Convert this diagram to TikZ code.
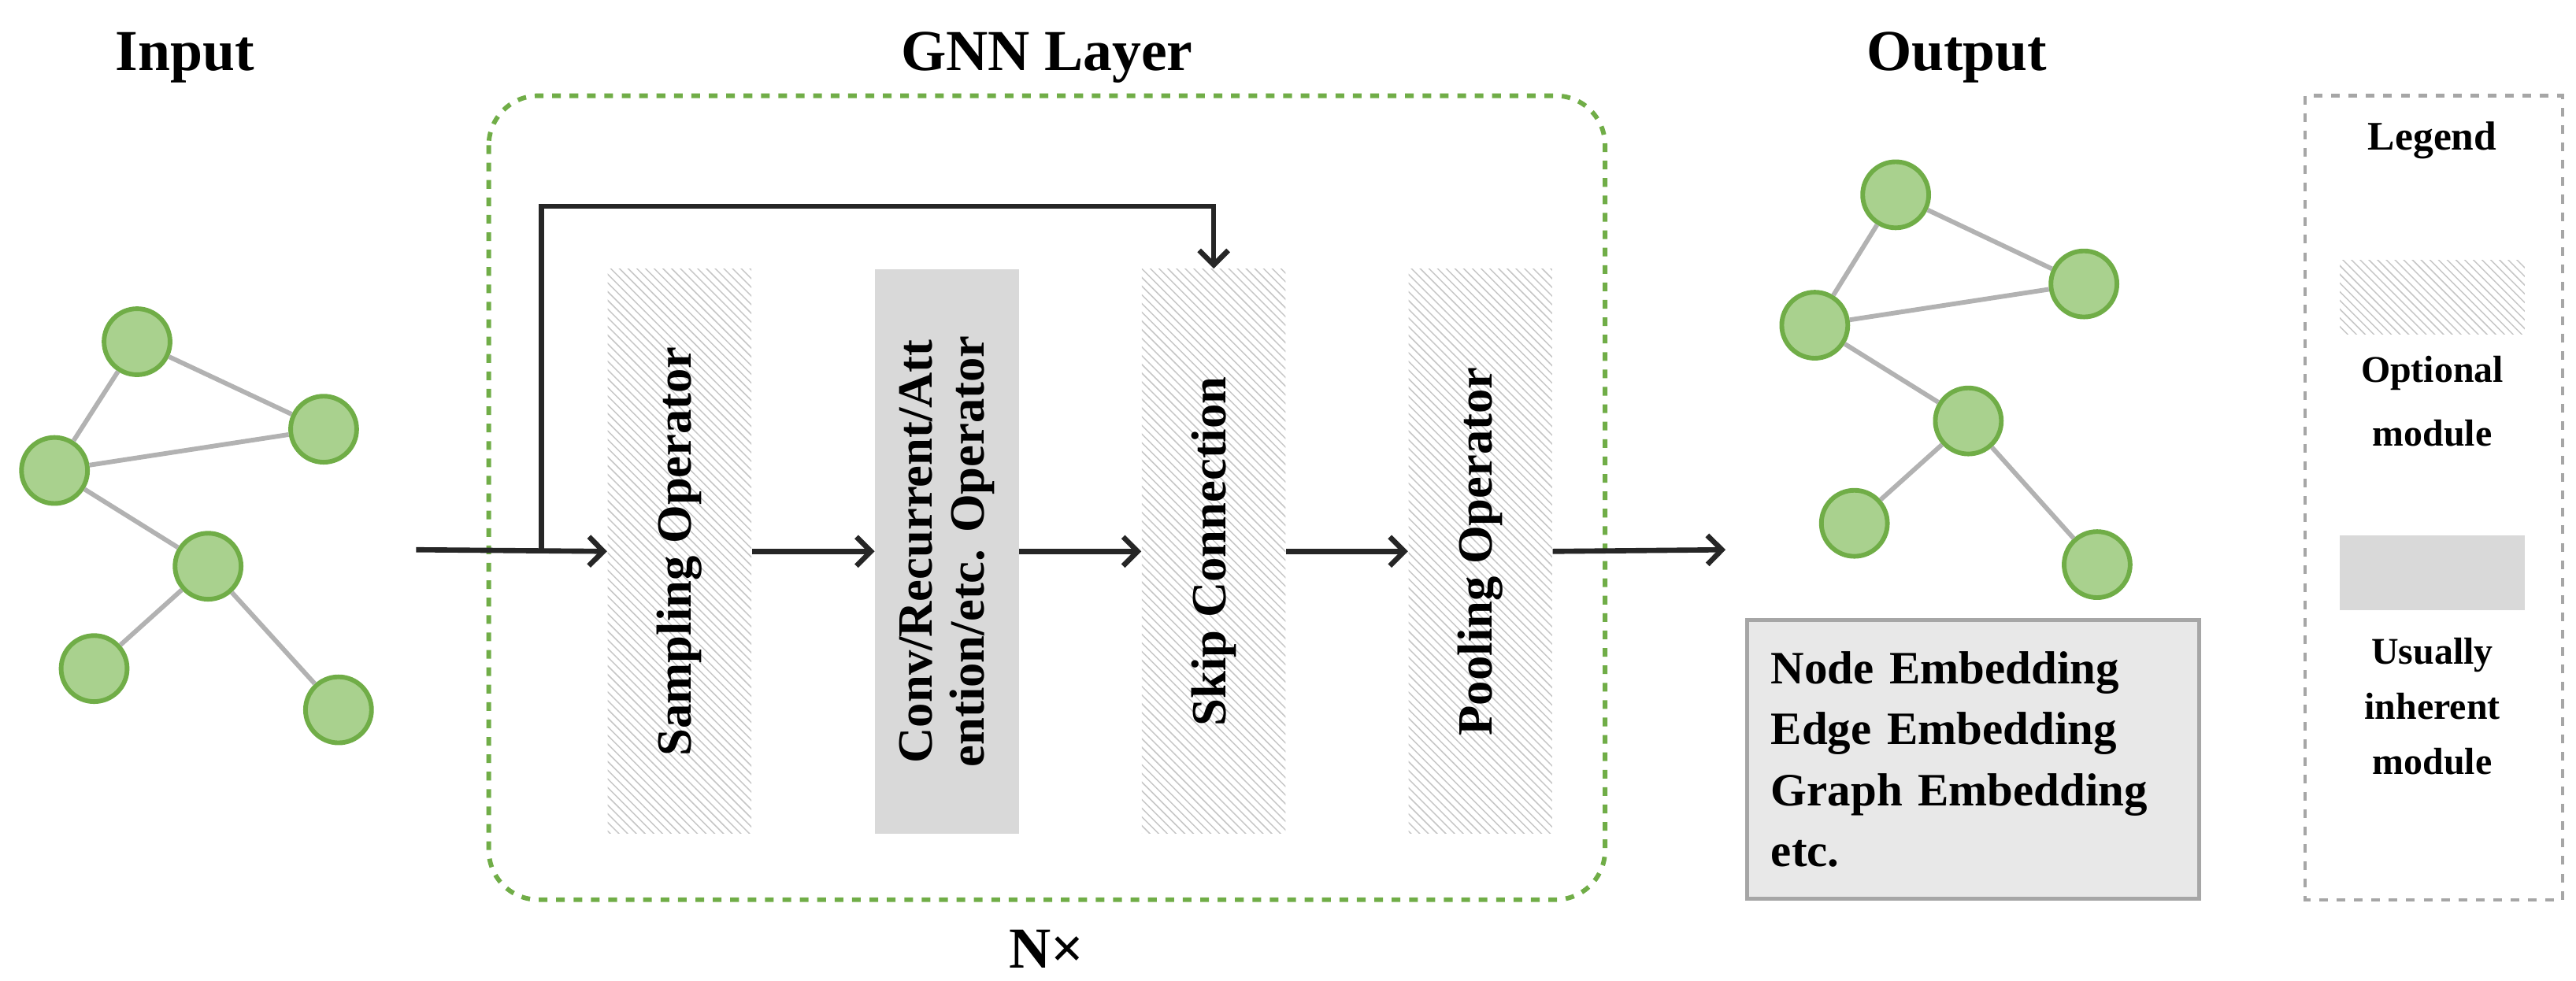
\documentclass[tikz,border=0pt]{standalone}
\usepackage{fontspec}
\setmainfont{Liberation Serif}
\usetikzlibrary{patterns,arrows.meta}
\definecolor{gnode}{HTML}{A9D18E}
\definecolor{gline}{HTML}{70AD47}
\tikzset{
  gv/.style={circle, fill=gnode, draw=gline, line width=1.6pt, minimum size=0.8cm, inner sep=0pt},
  ge/.style={draw=gray!60, line width=1.6pt},
  col/.style={rotate=90, minimum width=6.84cm, minimum height=1.74cm, inner sep=0pt, align=center,
    font=\fontsize{17}{18}\selectfont\bfseries},
  hatch/.style={pattern=north west lines, pattern color=gray!45},
  flow/.style={-{Straight Barb[length=5pt,width=10pt]}, line width=1.8pt, black!85},
  ttl/.style={font=\fontsize{20}{24}\selectfont\bfseries},
}
\begin{document}
\begin{tikzpicture}[x=0.02cm, y=-0.02cm]
			\useasboundingbox (0,0) rectangle (1560,594);
			% titles
			\node[ttl] (tin) at (112,35) {Input};
			\node[ttl] (tgnn) at (634,35) {GNN Layer};
			\node[ttl] (tout) at (1185,35) {Output};
			\node[ttl] (nx) at (634,575) {N\texttimes};
			% layer frame
			\draw[gline, dashed, line width=1.6pt, rounded corners=0.6cm] (296,58) rectangle (972,545);
			% modules
			\node[col, hatch] (samp) at (411.5,334) {Sampling Operator};
			\node[col, fill=gray!30] (conv) at (573.5,334) {Conv/Recurrent/Att\\ention/etc. Operator};
			\node[col, hatch] (skip) at (735,334) {Skip Connection};
			\node[col, hatch] (pool) at (896.5,334) {Pooling Operator};
			\coordinate (in) at (252,333);
			\coordinate (br) at (328,333);
			\coordinate (out) at (1045,333);
			\draw[flow] (in) -- (samp.north);
			\draw[flow] (samp.south) -- (conv.north);
			\draw[flow] (conv.south) -- (skip.north);
			\draw[flow] (skip.south) -- (pool.north);
			\draw[flow] (pool.south) -- (out);
			\draw[flow] (br) |- (735,125) -- (skip.east);
			% input graph
			\node[gv] (ia) at (83,207) {};
			\node[gv] (ib) at (196,260) {};
			\node[gv] (ic) at (33,285) {};
			\node[gv] (id) at (126,343) {};
			\node[gv] (ie) at (57,405) {};
			\node[gv] (if) at (205,430) {};
			\draw[ge] (ia) -- (ib); \draw[ge] (ia) -- (ic); \draw[ge] (ic) -- (ib);
			\draw[ge] (ic) -- (id); \draw[ge] (id) -- (ie); \draw[ge] (id) -- (if);
			% output graph
			\node[gv] (oa) at (1148,118) {};
			\node[gv] (ob) at (1262,172) {};
			\node[gv] (oc) at (1099,197) {};
			\node[gv] (od) at (1192,255) {};
			\node[gv] (oe) at (1123,317) {};
			\node[gv] (of) at (1270,342) {};
			\draw[ge] (oa) -- (ob); \draw[ge] (oa) -- (oc); \draw[ge] (oc) -- (ob);
			\draw[ge] (oc) -- (od); \draw[ge] (od) -- (oe); \draw[ge] (od) -- (of);
			% embeddings
			\node[draw=gray!70, line width=1.4pt, fill=gray!18, minimum width=5.48cm, minimum height=3.38cm,
			  text width=4.9cm, align=left, font=\fontsize{16}{21}\selectfont\bfseries] (emb) at (1195,460)
			  {Node Embedding\\Edge Embedding\\Graph Embedding\\etc.};
			% legend
			\draw[gray!70, dashed, line width=1.2pt] (1396,58) rectangle (1552,545);
			\node[font=\fontsize{14}{16}\selectfont\bfseries] (lg) at (1473,85) {Legend};
			\node[hatch, minimum width=2.24cm, minimum height=0.9cm, inner sep=0pt] (lopt) at (1473,180) {};
			\node[align=center, font=\fontsize{13}{22}\selectfont\bfseries] (lopttx) at (1473,243) {Optional\\module};
			\node[fill=gray!30, minimum width=2.24cm, minimum height=0.9cm, inner sep=0pt] (linh) at (1473,347) {};
			\node[align=center, font=\fontsize{13}{19}\selectfont\bfseries] (linhtx) at (1473,428) {Usually\\inherent\\module};
		\end{tikzpicture}
\end{document}
